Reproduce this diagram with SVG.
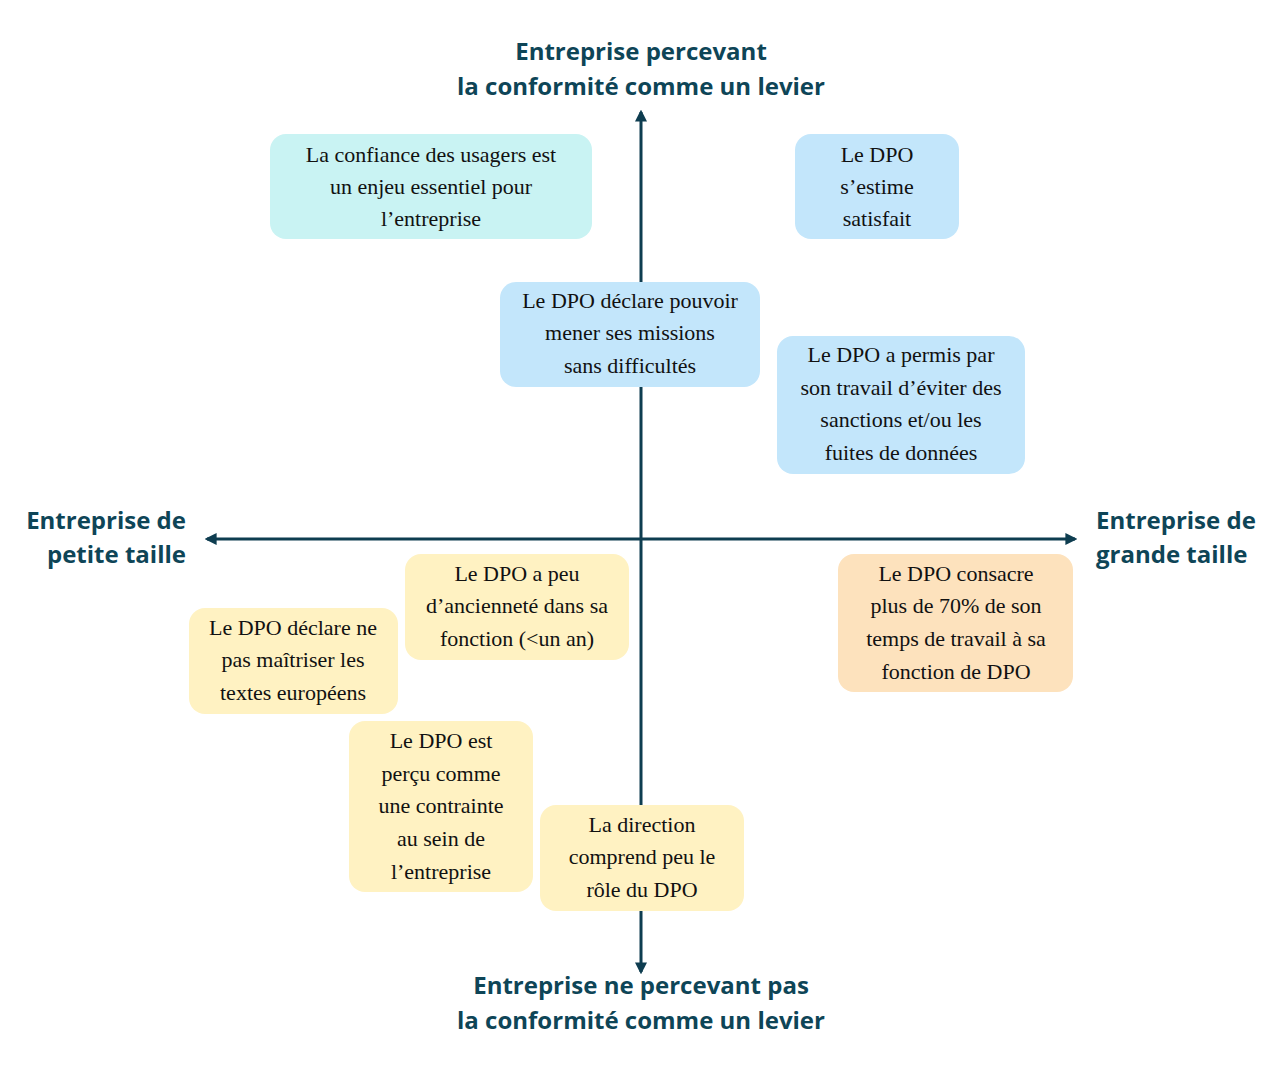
<svg xmlns="http://www.w3.org/2000/svg" width="1278" height="1080" viewBox="0 0 1278 1080">
<style>
.t{font-family:"Liberation Serif","DejaVu Serif",serif;font-size:22px;fill:#111;text-anchor:middle}
.h{font-family:"Open Sans","Noto Sans",sans-serif;font-size:24px;font-weight:bold;fill:#0e4557}
.ax{stroke:#0e3d50;stroke-width:3;fill:none}
.c{fill:#c9f3f3}.b{fill:#c3e6fb}.y{fill:#fff2c2}.o{fill:#fde2bd}
</style>
<defs><marker id="a" viewBox="0 0 10 10" refX="8" refY="5" markerWidth="4" markerHeight="4" orient="auto"><path d="M0,0L10,5L0,10z" fill="#0e3d50"/></marker></defs>
<rect width="1278" height="1080" fill="#fff"/>
<g id="connectors">
<line class="ax" x1="641" y1="539" x2="641" y2="112" marker-end="url(#a)"/>
<line class="ax" x1="641" y1="539" x2="641" y2="972" marker-end="url(#a)"/>
<line class="ax" x1="641" y1="539" x2="207" y2="539" marker-end="url(#a)"/>
<line class="ax" x1="641" y1="539" x2="1075" y2="539" marker-end="url(#a)"/>
</g>
<g id="labels">
<text class="h" text-anchor="middle"><tspan x="641" y="60">Entreprise percevant</tspan><tspan x="641" y="95">la conformité comme un levier</tspan></text>
<text class="h" text-anchor="middle"><tspan x="641" y="994">Entreprise ne percevant pas</tspan><tspan x="641" y="1029">la conformité comme un levier</tspan></text>
<text class="h" text-anchor="end"><tspan x="186" y="529">Entreprise de</tspan><tspan x="186" y="563">petite taille</tspan></text>
<text class="h" text-anchor="start"><tspan x="1096" y="529">Entreprise de</tspan><tspan x="1096" y="563">grande taille</tspan></text>
</g>
<g id="n1"><rect class="c" x="270" y="134" width="322" height="105" rx="16"/><text class="t"><tspan x="431" y="162">La confiance des usagers est</tspan><tspan x="431" y="194">un enjeu essentiel pour</tspan><tspan x="431" y="226">l’entreprise</tspan></text></g>
<g id="n2"><rect class="b" x="795" y="134" width="164" height="105" rx="16"/><text class="t"><tspan x="877" y="162">Le DPO</tspan><tspan x="877" y="194">s’estime</tspan><tspan x="877" y="226">satisfait</tspan></text></g>
<g id="n3"><rect class="b" x="500" y="282" width="260" height="105" rx="16"/><text class="t"><tspan x="630" y="308">Le DPO déclare pouvoir</tspan><tspan x="630" y="340">mener ses missions</tspan><tspan x="630" y="373">sans difficultés</tspan></text></g>
<g id="n4"><rect class="b" x="777" y="336" width="248" height="138" rx="16"/><text class="t"><tspan x="901" y="362">Le DPO a permis par</tspan><tspan x="901" y="395">son travail d’éviter des</tspan><tspan x="901" y="427">sanctions et/ou les</tspan><tspan x="901" y="460">fuites de données</tspan></text></g>
<g id="n5"><rect class="y" x="405" y="554" width="224" height="106" rx="16"/><text class="t"><tspan x="517" y="581">Le DPO a peu</tspan><tspan x="517" y="613">d’ancienneté dans sa</tspan><tspan x="517" y="646">fonction (&lt;un an)</tspan></text></g>
<g id="n6"><rect class="y" x="189" y="608" width="209" height="106" rx="16"/><text class="t"><tspan x="293" y="635">Le DPO déclare ne</tspan><tspan x="293" y="667">pas maîtriser les</tspan><tspan x="293" y="700">textes européens</tspan></text></g>
<g id="n7"><rect class="y" x="349" y="721" width="184" height="171" rx="16"/><text class="t"><tspan x="441" y="748">Le DPO est</tspan><tspan x="441" y="781">perçu comme</tspan><tspan x="441" y="813">une contrainte</tspan><tspan x="441" y="846">au sein de</tspan><tspan x="441" y="879">l’entreprise</tspan></text></g>
<g id="n8"><rect class="y" x="540" y="805" width="204" height="106" rx="16"/><text class="t"><tspan x="642" y="832">La direction</tspan><tspan x="642" y="864">comprend peu le</tspan><tspan x="642" y="897">rôle du DPO</tspan></text></g>
<g id="n9"><rect class="o" x="838" y="554" width="235" height="138" rx="16"/><text class="t"><tspan x="956" y="581">Le DPO consacre</tspan><tspan x="956" y="613">plus de 70% de son</tspan><tspan x="956" y="646">temps de travail à sa</tspan><tspan x="956" y="679">fonction de DPO</tspan></text></g>
</svg>
